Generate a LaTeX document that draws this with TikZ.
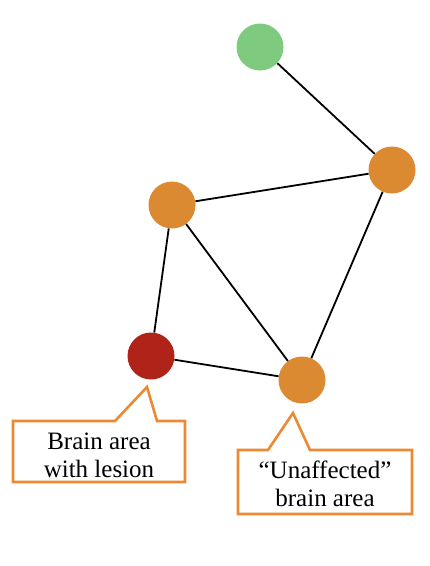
\documentclass[tikz,border=0pt]{standalone}
\usepackage{fontspec}
\setmainfont{Liberation Serif}
\definecolor{areaorange}{HTML}{DC8A32}
\definecolor{lesionred}{HTML}{AF2318}
\definecolor{areagreen}{HTML}{7ECB7F}
\definecolor{callorange}{HTML}{EC8A33}
\tikzset{%
    area/.style={circle,inner sep=0pt,minimum size=47pt,draw=none},%
    link/.style={line width=1.8pt,black},%
    callout box/.style={draw=callorange,line width=2.6pt,fill=white,line join=miter},%
    callout text/.style={align=center,font=\fontsize{25}{28}\selectfont,inner sep=0pt}%
    }
\begin{document}
\begin{tikzpicture}[x=1pt,y=-1pt]
    \useasboundingbox (0,0) rectangle (430,566);
    % brain areas
    \node[area,fill=areagreen] (G) at (260,47){};
    \node[area,fill=areaorange] (R) at (392,170){};
    \node[area,fill=areaorange] (L) at (172,205){};
    \node[area,fill=lesionred] (X) at (151,356){};
    \node[area,fill=areaorange] (U) at (302,380){};

    % connections
    \draw[link] (G) -- (R);
    \draw[link] (R) -- (L);
    \draw[link] (R) -- (U);
    \draw[link] (L) -- (X);
    \draw[link] (L) -- (U);
    \draw[link] (X) -- (U);

    % callouts
    \draw[callout box] (13,421) -- (115,421) -- (147,387) -- (157,421)
        -- (185,421) -- (185,482) -- (13,482) -- cycle;
    \node[callout text] (lesion) at (99,455){Brain area\\with lesion};

    \draw[callout box] (238,450) -- (268,450) -- (293,413) -- (310,450)
        -- (412,450) -- (412,514) -- (238,514) -- cycle;
    \node[callout text] (unaff) at (325,484){``Unaffected''\\brain area};
\end{tikzpicture}
\end{document}
